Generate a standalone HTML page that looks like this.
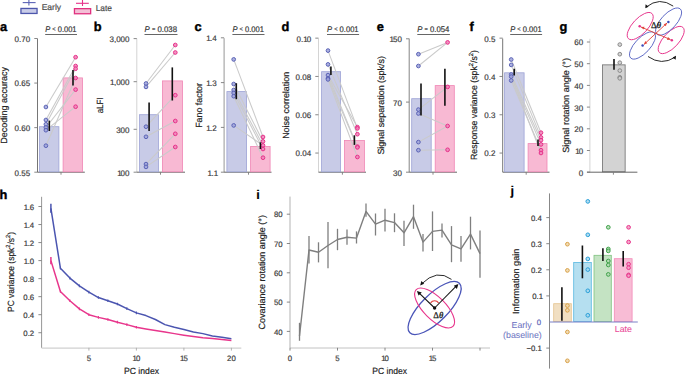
<!DOCTYPE html><html><head><meta charset="utf-8"><style>html,body{margin:0;padding:0;background:#fff;width:685px;height:374px;overflow:hidden}text{font-family:"Liberation Sans",sans-serif;text-rendering:geometricPrecision}</style></head><body><svg width="685" height="374" viewBox="0 0 685 374" style="display:block;font-family:'Liberation Sans', sans-serif;text-rendering:geometricPrecision">
<rect width="685" height="374" fill="#fff"/>
<rect x="20.95" y="8.45" width="16.10" height="5.00" fill="#c9cce8" stroke="#4d56ac" stroke-width="1.3"/>
<line x1="22.7" y1="2.6" x2="35.6" y2="2.6" stroke="#5b63b6" stroke-width="1.1" />
<line x1="28.9" y1="0" x2="28.9" y2="5.4" stroke="#5b63b6" stroke-width="1.1" />
<text x="41.7" y="9.9" font-size="8.5" text-anchor="start" fill="#4a4a4a" stroke="#4a4a4a" stroke-width="0.18" font-weight="normal" textLength="19.4" lengthAdjust="spacingAndGlyphs" style="">Early</text>
<rect x="74.45" y="8.65" width="16.20" height="5.10" fill="#f3bfd6" stroke="#e0307f" stroke-width="1.3"/>
<line x1="76" y1="3.3" x2="88.8" y2="3.3" stroke="#e6318a" stroke-width="1.1" />
<line x1="82.5" y1="0" x2="82.5" y2="6.0" stroke="#e6318a" stroke-width="1.1" />
<text x="95.7" y="10.6" font-size="8.5" text-anchor="start" fill="#4a4a4a" stroke="#4a4a4a" stroke-width="0.18" font-weight="normal" textLength="16.3" lengthAdjust="spacingAndGlyphs" style="">Late</text>
<line x1="37.5" y1="38.6" x2="37.5" y2="172.2" stroke="#666" stroke-width="0.9" />
<line x1="37.5" y1="172.2" x2="84.8" y2="172.2" stroke="#555" stroke-width="0.9" />
<rect x="39.40" y="126.70" width="19.50" height="45.10" fill="#c8cbe7" stroke="#9da3d6" stroke-width="0.8"/>
<rect x="63.10" y="77.90" width="19.40" height="93.90" fill="#f8b9d3" stroke="#ef86b5" stroke-width="0.8"/>
<line x1="45.9" y1="107" x2="75.6" y2="57.2" stroke="#cacaca" stroke-width="1.05" />
<line x1="45.9" y1="120" x2="75.6" y2="66" stroke="#cacaca" stroke-width="1.05" />
<line x1="45.9" y1="124.3" x2="75.6" y2="68.7" stroke="#cacaca" stroke-width="1.05" />
<line x1="45.9" y1="127.5" x2="75.6" y2="89.6" stroke="#cacaca" stroke-width="1.05" />
<line x1="45.9" y1="130.2" x2="75.6" y2="106.7" stroke="#cacaca" stroke-width="1.05" />
<line x1="45.9" y1="145.7" x2="75.6" y2="78" stroke="#cacaca" stroke-width="1.05" />
<circle cx="45.9" cy="107" r="1.85" fill="#a0a6dc" fill-opacity="0.85" stroke="#5b63b6" stroke-width="1"/>
<circle cx="45.9" cy="120" r="1.85" fill="#a0a6dc" fill-opacity="0.85" stroke="#5b63b6" stroke-width="1"/>
<circle cx="45.9" cy="124.3" r="1.85" fill="#a0a6dc" fill-opacity="0.85" stroke="#5b63b6" stroke-width="1"/>
<circle cx="45.9" cy="127.5" r="1.85" fill="#a0a6dc" fill-opacity="0.85" stroke="#5b63b6" stroke-width="1"/>
<circle cx="45.9" cy="130.2" r="1.85" fill="#a0a6dc" fill-opacity="0.85" stroke="#5b63b6" stroke-width="1"/>
<circle cx="45.9" cy="145.7" r="1.85" fill="#a0a6dc" fill-opacity="0.85" stroke="#5b63b6" stroke-width="1"/>
<circle cx="75.6" cy="57.2" r="1.85" fill="#f183b8" fill-opacity="0.85" stroke="#e6318a" stroke-width="1"/>
<circle cx="75.6" cy="66" r="1.85" fill="#f183b8" fill-opacity="0.85" stroke="#e6318a" stroke-width="1"/>
<circle cx="75.6" cy="68.7" r="1.85" fill="#f183b8" fill-opacity="0.85" stroke="#e6318a" stroke-width="1"/>
<circle cx="75.6" cy="78" r="1.85" fill="#f183b8" fill-opacity="0.85" stroke="#e6318a" stroke-width="1"/>
<circle cx="75.6" cy="89.6" r="1.85" fill="#f183b8" fill-opacity="0.85" stroke="#e6318a" stroke-width="1"/>
<circle cx="75.6" cy="106.7" r="1.85" fill="#f183b8" fill-opacity="0.85" stroke="#e6318a" stroke-width="1"/>
<line x1="49.3" y1="120.6" x2="49.3" y2="131" stroke="#111111" stroke-width="1.6" />
<line x1="73" y1="69.9" x2="73" y2="85.6" stroke="#111111" stroke-width="1.6" />
<line x1="61" y1="172.2" x2="61" y2="174.7" stroke="#7a7a7a" stroke-width="0.9" />
<line x1="34.3" y1="172.2" x2="37.5" y2="172.2" stroke="#7a7a7a" stroke-width="0.9" />
<text x="30.2" y="175.6" font-size="8" text-anchor="end" fill="#3a3a3a" stroke="#3a3a3a" stroke-width="0.18" font-weight="normal" style="">0.55</text>
<line x1="34.3" y1="127.63333333333338" x2="37.5" y2="127.63333333333338" stroke="#7a7a7a" stroke-width="0.9" />
<text x="30.2" y="131.0333333333334" font-size="8" text-anchor="end" fill="#3a3a3a" stroke="#3a3a3a" stroke-width="0.18" font-weight="normal" style="">0.60</text>
<line x1="34.3" y1="83.06666666666668" x2="37.5" y2="83.06666666666668" stroke="#7a7a7a" stroke-width="0.9" />
<text x="30.2" y="86.46666666666668" font-size="8" text-anchor="end" fill="#3a3a3a" stroke="#3a3a3a" stroke-width="0.18" font-weight="normal" style="">0.65</text>
<line x1="34.3" y1="38.500000000000085" x2="37.5" y2="38.500000000000085" stroke="#7a7a7a" stroke-width="0.9" />
<text x="30.2" y="41.900000000000084" font-size="8" text-anchor="end" fill="#3a3a3a" stroke="#3a3a3a" stroke-width="0.18" font-weight="normal" style="">0.70</text>
<text x="45.2" y="31.5" font-size="8.2" fill="#333" stroke="#333" stroke-width="0.18" textLength="31.30" lengthAdjust="spacingAndGlyphs"><tspan font-style="italic">P</tspan> <tspan font-size="6.2" dy="-0.6">&lt;</tspan><tspan dy="0.6"> 0.001</tspan></text>
<line x1="45.2" y1="34.5" x2="77.0" y2="34.5" stroke="#555" stroke-width="0.9" />
<text x="7.5" y="105.35" font-size="9.0" text-anchor="middle" fill="#222" stroke="#222" stroke-width="0.18" font-weight="normal" transform="rotate(-90 7.5 105.35)" textLength="76.7" lengthAdjust="spacingAndGlyphs" style="">Decoding accuracy</text>
<text x="0" y="31" font-size="12.8" font-weight="bold" fill="#000" stroke="#000" stroke-width="0.4">a</text>
<line x1="136.8" y1="38.6" x2="136.8" y2="172.2" stroke="#cfcfcf" stroke-width="0.9" />
<line x1="136.8" y1="172.2" x2="185" y2="172.2" stroke="#555" stroke-width="0.9" />
<rect x="139.50" y="114.70" width="18.90" height="57.10" fill="#c8cbe7" stroke="#9da3d6" stroke-width="0.8"/>
<rect x="162.40" y="80.90" width="20.10" height="90.90" fill="#f8b9d3" stroke="#ef86b5" stroke-width="0.8"/>
<line x1="146" y1="83.5" x2="175.3" y2="45" stroke="#cacaca" stroke-width="1.05" />
<line x1="146" y1="86.9" x2="175.3" y2="52.5" stroke="#cacaca" stroke-width="1.05" />
<line x1="146" y1="126.7" x2="175.3" y2="95.2" stroke="#cacaca" stroke-width="1.05" />
<line x1="146" y1="136.8" x2="175.3" y2="121" stroke="#cacaca" stroke-width="1.05" />
<line x1="146" y1="164.1" x2="175.3" y2="133.8" stroke="#cacaca" stroke-width="1.05" />
<line x1="146" y1="166.9" x2="175.3" y2="147" stroke="#cacaca" stroke-width="1.05" />
<circle cx="146" cy="83.5" r="1.85" fill="#a0a6dc" fill-opacity="0.85" stroke="#5b63b6" stroke-width="1"/>
<circle cx="146" cy="86.9" r="1.85" fill="#a0a6dc" fill-opacity="0.85" stroke="#5b63b6" stroke-width="1"/>
<circle cx="146" cy="126.7" r="1.85" fill="#a0a6dc" fill-opacity="0.85" stroke="#5b63b6" stroke-width="1"/>
<circle cx="146" cy="136.8" r="1.85" fill="#a0a6dc" fill-opacity="0.85" stroke="#5b63b6" stroke-width="1"/>
<circle cx="146" cy="164.1" r="1.85" fill="#a0a6dc" fill-opacity="0.85" stroke="#5b63b6" stroke-width="1"/>
<circle cx="146" cy="166.9" r="1.85" fill="#a0a6dc" fill-opacity="0.85" stroke="#5b63b6" stroke-width="1"/>
<circle cx="175.3" cy="45" r="1.85" fill="#f183b8" fill-opacity="0.85" stroke="#e6318a" stroke-width="1"/>
<circle cx="175.3" cy="52.5" r="1.85" fill="#f183b8" fill-opacity="0.85" stroke="#e6318a" stroke-width="1"/>
<circle cx="175.3" cy="95.2" r="1.85" fill="#f183b8" fill-opacity="0.85" stroke="#e6318a" stroke-width="1"/>
<circle cx="175.3" cy="121" r="1.85" fill="#f183b8" fill-opacity="0.85" stroke="#e6318a" stroke-width="1"/>
<circle cx="175.3" cy="133.8" r="1.85" fill="#f183b8" fill-opacity="0.85" stroke="#e6318a" stroke-width="1"/>
<circle cx="175.3" cy="147" r="1.85" fill="#f183b8" fill-opacity="0.85" stroke="#e6318a" stroke-width="1"/>
<line x1="149.1" y1="102.6" x2="149.1" y2="131" stroke="#111111" stroke-width="1.6" />
<line x1="172.3" y1="67.4" x2="172.3" y2="100.5" stroke="#111111" stroke-width="1.6" />
<line x1="160.5" y1="172.2" x2="160.5" y2="174.7" stroke="#7a7a7a" stroke-width="0.9" />
<line x1="133.60000000000002" y1="172.2" x2="136.8" y2="172.2" stroke="#7a7a7a" stroke-width="0.9" />
<text x="129.5" y="175.6" font-size="8" text-anchor="end" fill="#3a3a3a" stroke="#3a3a3a" stroke-width="0.18" font-weight="normal" style="">1<tspan dx="-1.0">0</tspan>0</text>
<line x1="133.60000000000002" y1="129.3" x2="136.8" y2="129.3" stroke="#7a7a7a" stroke-width="0.9" />
<text x="129.5" y="132.70000000000002" font-size="8" text-anchor="end" fill="#3a3a3a" stroke="#3a3a3a" stroke-width="0.18" font-weight="normal" style="">300</text>
<line x1="133.60000000000002" y1="81.7" x2="136.8" y2="81.7" stroke="#7a7a7a" stroke-width="0.9" />
<text x="129.5" y="85.10000000000001" font-size="8" text-anchor="end" fill="#3a3a3a" stroke="#3a3a3a" stroke-width="0.18" font-weight="normal" style="">1<tspan dx="-0.5">,</tspan>000</text>
<line x1="133.60000000000002" y1="38.6" x2="136.8" y2="38.6" stroke="#7a7a7a" stroke-width="0.9" />
<text x="129.5" y="42.0" font-size="8" text-anchor="end" fill="#3a3a3a" stroke="#3a3a3a" stroke-width="0.18" font-weight="normal" style="">3,000</text>
<text x="144.5" y="31.5" font-size="8.2" fill="#333" stroke="#333" stroke-width="0.18" textLength="32.50" lengthAdjust="spacingAndGlyphs"><tspan font-style="italic">P</tspan> <tspan font-size="6" dy="-0.7">=</tspan><tspan dy="0.7"> 0.038</tspan></text>
<line x1="144.5" y1="34.5" x2="177.5" y2="34.5" stroke="#555" stroke-width="0.9" />
<text x="103" y="105.3" font-size="9.0" text-anchor="middle" fill="#222" stroke="#222" stroke-width="0.18" font-weight="normal" transform="rotate(-90 103 105.3)" textLength="16.1" lengthAdjust="spacingAndGlyphs" style="">aLFI</text>
<text x="93.8" y="31" font-size="12.8" font-weight="bold" fill="#000" stroke="#000" stroke-width="0.4">b</text>
<line x1="224.1" y1="38.2" x2="224.1" y2="172.2" stroke="#8a8a8a" stroke-width="0.9" />
<line x1="224.1" y1="172.2" x2="271.5" y2="172.2" stroke="#555" stroke-width="0.9" />
<rect x="226.90" y="91.60" width="19.70" height="80.20" fill="#c8cbe7" stroke="#9da3d6" stroke-width="0.8"/>
<rect x="250.60" y="146.40" width="19.50" height="25.40" fill="#f8b9d3" stroke="#ef86b5" stroke-width="0.8"/>
<line x1="233.7" y1="59.4" x2="263" y2="137" stroke="#cacaca" stroke-width="1.05" />
<line x1="233.7" y1="84" x2="263" y2="141.4" stroke="#cacaca" stroke-width="1.05" />
<line x1="233.7" y1="90" x2="263" y2="145.4" stroke="#cacaca" stroke-width="1.05" />
<line x1="233.7" y1="93" x2="263" y2="149" stroke="#cacaca" stroke-width="1.05" />
<line x1="233.7" y1="96.2" x2="263" y2="157.7" stroke="#cacaca" stroke-width="1.05" />
<line x1="233.7" y1="125.4" x2="263" y2="145.4" stroke="#cacaca" stroke-width="1.05" />
<circle cx="233.7" cy="59.4" r="1.85" fill="#a0a6dc" fill-opacity="0.85" stroke="#5b63b6" stroke-width="1"/>
<circle cx="233.7" cy="84" r="1.85" fill="#a0a6dc" fill-opacity="0.85" stroke="#5b63b6" stroke-width="1"/>
<circle cx="233.7" cy="90" r="1.85" fill="#a0a6dc" fill-opacity="0.85" stroke="#5b63b6" stroke-width="1"/>
<circle cx="233.7" cy="93" r="1.85" fill="#a0a6dc" fill-opacity="0.85" stroke="#5b63b6" stroke-width="1"/>
<circle cx="233.7" cy="96.2" r="1.85" fill="#a0a6dc" fill-opacity="0.85" stroke="#5b63b6" stroke-width="1"/>
<circle cx="233.7" cy="125.4" r="1.85" fill="#a0a6dc" fill-opacity="0.85" stroke="#5b63b6" stroke-width="1"/>
<circle cx="263" cy="137" r="1.85" fill="#f183b8" fill-opacity="0.85" stroke="#e6318a" stroke-width="1"/>
<circle cx="263" cy="141.4" r="1.85" fill="#f183b8" fill-opacity="0.85" stroke="#e6318a" stroke-width="1"/>
<circle cx="263" cy="145.4" r="1.85" fill="#f183b8" fill-opacity="0.85" stroke="#e6318a" stroke-width="1"/>
<circle cx="263" cy="149" r="1.85" fill="#f183b8" fill-opacity="0.85" stroke="#e6318a" stroke-width="1"/>
<circle cx="263" cy="157.7" r="1.85" fill="#f183b8" fill-opacity="0.85" stroke="#e6318a" stroke-width="1"/>
<line x1="236.3" y1="83.2" x2="236.3" y2="99.2" stroke="#111111" stroke-width="1.6" />
<line x1="260.4" y1="142.3" x2="260.4" y2="149" stroke="#111111" stroke-width="1.6" />
<line x1="248.5" y1="172.2" x2="248.5" y2="174.7" stroke="#7a7a7a" stroke-width="0.9" />
<line x1="220.9" y1="172.2" x2="224.1" y2="172.2" stroke="#7a7a7a" stroke-width="0.9" />
<text x="218.1" y="175.6" font-size="8" text-anchor="end" fill="#3a3a3a" stroke="#3a3a3a" stroke-width="0.18" font-weight="normal" style="">1<tspan dx="-0.5">.</tspan>1</text>
<line x1="220.9" y1="127.40000000000005" x2="224.1" y2="127.40000000000005" stroke="#7a7a7a" stroke-width="0.9" />
<text x="216.79999999999998" y="130.80000000000004" font-size="8" text-anchor="end" fill="#3a3a3a" stroke="#3a3a3a" stroke-width="0.18" font-weight="normal" style="">1<tspan dx="-0.5">.</tspan>2</text>
<line x1="220.9" y1="82.60000000000001" x2="224.1" y2="82.60000000000001" stroke="#7a7a7a" stroke-width="0.9" />
<text x="216.79999999999998" y="86.00000000000001" font-size="8" text-anchor="end" fill="#3a3a3a" stroke="#3a3a3a" stroke-width="0.18" font-weight="normal" style="">1<tspan dx="-0.5">.</tspan>3</text>
<line x1="220.9" y1="37.80000000000007" x2="224.1" y2="37.80000000000007" stroke="#7a7a7a" stroke-width="0.9" />
<text x="216.79999999999998" y="41.20000000000007" font-size="8" text-anchor="end" fill="#3a3a3a" stroke="#3a3a3a" stroke-width="0.18" font-weight="normal" style="">1<tspan dx="-0.5">.</tspan>4</text>
<text x="232.4" y="31.5" font-size="8.2" fill="#333" stroke="#333" stroke-width="0.18" textLength="31.60" lengthAdjust="spacingAndGlyphs"><tspan font-style="italic">P</tspan> <tspan font-size="6.2" dy="-0.6">&lt;</tspan><tspan dy="0.6"> 0.001</tspan></text>
<line x1="232.4" y1="34.5" x2="264.5" y2="34.5" stroke="#555" stroke-width="0.9" />
<text x="202.1" y="105.4" font-size="9.0" text-anchor="middle" fill="#222" stroke="#222" stroke-width="0.18" font-weight="normal" transform="rotate(-90 202.1 105.4)" textLength="44.8" lengthAdjust="spacingAndGlyphs" style="">Fano factor</text>
<text x="194.6" y="31" font-size="12.8" font-weight="bold" fill="#000" stroke="#000" stroke-width="0.4">c</text>
<line x1="318.5" y1="38.6" x2="318.5" y2="172.2" stroke="#cfcfcf" stroke-width="0.9" />
<line x1="318.5" y1="172.2" x2="366" y2="172.2" stroke="#555" stroke-width="0.9" />
<rect x="321.60" y="71.70" width="19.00" height="100.10" fill="#c8cbe7" stroke="#9da3d6" stroke-width="0.8"/>
<rect x="344.50" y="140.40" width="19.90" height="31.40" fill="#f8b9d3" stroke="#ef86b5" stroke-width="0.8"/>
<line x1="328" y1="50.6" x2="357.4" y2="128.4" stroke="#cacaca" stroke-width="1.05" />
<line x1="328" y1="64.4" x2="357.4" y2="134.2" stroke="#cacaca" stroke-width="1.05" />
<line x1="328" y1="75.1" x2="357.4" y2="146.6" stroke="#cacaca" stroke-width="1.05" />
<line x1="328" y1="78.3" x2="357.4" y2="147.4" stroke="#cacaca" stroke-width="1.05" />
<line x1="328" y1="79.4" x2="357.4" y2="157" stroke="#cacaca" stroke-width="1.05" />
<line x1="328" y1="75.1" x2="357.4" y2="127.1" stroke="#cacaca" stroke-width="1.05" />
<circle cx="328" cy="50.6" r="1.85" fill="#a0a6dc" fill-opacity="0.85" stroke="#5b63b6" stroke-width="1"/>
<circle cx="328" cy="64.4" r="1.85" fill="#a0a6dc" fill-opacity="0.85" stroke="#5b63b6" stroke-width="1"/>
<circle cx="328" cy="75.1" r="1.85" fill="#a0a6dc" fill-opacity="0.85" stroke="#5b63b6" stroke-width="1"/>
<circle cx="328" cy="78.3" r="1.85" fill="#a0a6dc" fill-opacity="0.85" stroke="#5b63b6" stroke-width="1"/>
<circle cx="328" cy="79.4" r="1.85" fill="#a0a6dc" fill-opacity="0.85" stroke="#5b63b6" stroke-width="1"/>
<circle cx="357.4" cy="127.1" r="1.85" fill="#f183b8" fill-opacity="0.85" stroke="#e6318a" stroke-width="1"/>
<circle cx="357.4" cy="128.4" r="1.85" fill="#f183b8" fill-opacity="0.85" stroke="#e6318a" stroke-width="1"/>
<circle cx="357.4" cy="134.2" r="1.85" fill="#f183b8" fill-opacity="0.85" stroke="#e6318a" stroke-width="1"/>
<circle cx="357.4" cy="146.6" r="1.85" fill="#f183b8" fill-opacity="0.85" stroke="#e6318a" stroke-width="1"/>
<circle cx="357.4" cy="147.4" r="1.85" fill="#f183b8" fill-opacity="0.85" stroke="#e6318a" stroke-width="1"/>
<circle cx="357.4" cy="157" r="1.85" fill="#f183b8" fill-opacity="0.85" stroke="#e6318a" stroke-width="1"/>
<line x1="330.9" y1="66.6" x2="330.9" y2="75.1" stroke="#111111" stroke-width="1.6" />
<line x1="354.4" y1="135.3" x2="354.4" y2="144.9" stroke="#111111" stroke-width="1.6" />
<line x1="342.4" y1="172.2" x2="342.4" y2="174.7" stroke="#7a7a7a" stroke-width="0.9" />
<line x1="315.3" y1="153.04999999999998" x2="318.5" y2="153.04999999999998" stroke="#7a7a7a" stroke-width="0.9" />
<text x="311.2" y="156.45" font-size="8" text-anchor="end" fill="#3a3a3a" stroke="#3a3a3a" stroke-width="0.18" font-weight="normal" style="">0.04</text>
<line x1="315.3" y1="114.75" x2="318.5" y2="114.75" stroke="#7a7a7a" stroke-width="0.9" />
<text x="311.2" y="118.15" font-size="8" text-anchor="end" fill="#3a3a3a" stroke="#3a3a3a" stroke-width="0.18" font-weight="normal" style="">0.06</text>
<line x1="315.3" y1="76.44999999999999" x2="318.5" y2="76.44999999999999" stroke="#7a7a7a" stroke-width="0.9" />
<text x="311.2" y="79.85" font-size="8" text-anchor="end" fill="#3a3a3a" stroke="#3a3a3a" stroke-width="0.18" font-weight="normal" style="">0.08</text>
<line x1="315.3" y1="38.14999999999998" x2="318.5" y2="38.14999999999998" stroke="#7a7a7a" stroke-width="0.9" />
<text x="311.2" y="41.549999999999976" font-size="8" text-anchor="end" fill="#3a3a3a" stroke="#3a3a3a" stroke-width="0.18" font-weight="normal" style="">0.1<tspan dx="-1.0">0</tspan></text>
<text x="327" y="31.5" font-size="8.2" fill="#333" stroke="#333" stroke-width="0.18" textLength="31.60" lengthAdjust="spacingAndGlyphs"><tspan font-style="italic">P</tspan> <tspan font-size="6.2" dy="-0.6">&lt;</tspan><tspan dy="0.6"> 0.001</tspan></text>
<line x1="327" y1="34.5" x2="359.1" y2="34.5" stroke="#555" stroke-width="0.9" />
<text x="289.5" y="105.3" font-size="9.0" text-anchor="middle" fill="#222" stroke="#222" stroke-width="0.18" font-weight="normal" transform="rotate(-90 289.5 105.3)" textLength="67.1" lengthAdjust="spacingAndGlyphs" style="">Noise correlation</text>
<text x="281.4" y="31" font-size="12.8" font-weight="bold" fill="#000" stroke="#000" stroke-width="0.4">d</text>
<line x1="409.2" y1="38.6" x2="409.2" y2="172.2" stroke="#777" stroke-width="0.9" />
<line x1="409.2" y1="172.2" x2="457" y2="172.2" stroke="#555" stroke-width="0.9" />
<rect x="411.70" y="98.70" width="19.50" height="73.10" fill="#c8cbe7" stroke="#9da3d6" stroke-width="0.8"/>
<rect x="435.20" y="85.60" width="19.10" height="86.20" fill="#f8b9d3" stroke="#ef86b5" stroke-width="0.8"/>
<line x1="418.4" y1="54.2" x2="447.6" y2="42.4" stroke="#cacaca" stroke-width="1.05" />
<line x1="418.4" y1="66" x2="447.6" y2="42.4" stroke="#cacaca" stroke-width="1.05" />
<line x1="418.4" y1="109.6" x2="447.6" y2="86.9" stroke="#cacaca" stroke-width="1.05" />
<line x1="418.4" y1="113.5" x2="447.6" y2="126" stroke="#cacaca" stroke-width="1.05" />
<line x1="418.4" y1="142.1" x2="447.6" y2="126" stroke="#cacaca" stroke-width="1.05" />
<line x1="418.4" y1="150.2" x2="447.6" y2="149.8" stroke="#cacaca" stroke-width="1.05" />
<circle cx="418.4" cy="54.2" r="1.85" fill="#a0a6dc" fill-opacity="0.85" stroke="#5b63b6" stroke-width="1"/>
<circle cx="418.4" cy="66" r="1.85" fill="#a0a6dc" fill-opacity="0.85" stroke="#5b63b6" stroke-width="1"/>
<circle cx="418.4" cy="109.6" r="1.85" fill="#a0a6dc" fill-opacity="0.85" stroke="#5b63b6" stroke-width="1"/>
<circle cx="418.4" cy="113.5" r="1.85" fill="#a0a6dc" fill-opacity="0.85" stroke="#5b63b6" stroke-width="1"/>
<circle cx="418.4" cy="142.1" r="1.85" fill="#a0a6dc" fill-opacity="0.85" stroke="#5b63b6" stroke-width="1"/>
<circle cx="418.4" cy="150.2" r="1.85" fill="#a0a6dc" fill-opacity="0.85" stroke="#5b63b6" stroke-width="1"/>
<circle cx="447.6" cy="42.4" r="1.85" fill="#f183b8" fill-opacity="0.85" stroke="#e6318a" stroke-width="1"/>
<circle cx="447.6" cy="86.9" r="1.85" fill="#f183b8" fill-opacity="0.85" stroke="#e6318a" stroke-width="1"/>
<circle cx="447.6" cy="126" r="1.85" fill="#f183b8" fill-opacity="0.85" stroke="#e6318a" stroke-width="1"/>
<circle cx="447.6" cy="149.8" r="1.85" fill="#f183b8" fill-opacity="0.85" stroke="#e6318a" stroke-width="1"/>
<line x1="421" y1="83.5" x2="421" y2="115.4" stroke="#111111" stroke-width="1.6" />
<line x1="444.9" y1="68.7" x2="444.9" y2="105.8" stroke="#111111" stroke-width="1.6" />
<line x1="433" y1="172.2" x2="433" y2="174.7" stroke="#7a7a7a" stroke-width="0.9" />
<line x1="406.0" y1="172.2" x2="409.2" y2="172.2" stroke="#7a7a7a" stroke-width="0.9" />
<text x="401.9" y="175.6" font-size="8" text-anchor="end" fill="#3a3a3a" stroke="#3a3a3a" stroke-width="0.18" font-weight="normal" style="">30</text>
<line x1="406.0" y1="102.1" x2="409.2" y2="102.1" stroke="#7a7a7a" stroke-width="0.9" />
<text x="401.9" y="105.5" font-size="8" text-anchor="end" fill="#3a3a3a" stroke="#3a3a3a" stroke-width="0.18" font-weight="normal" style="">70</text>
<line x1="406.0" y1="38.8" x2="409.2" y2="38.8" stroke="#7a7a7a" stroke-width="0.9" />
<text x="401.9" y="42.199999999999996" font-size="8" text-anchor="end" fill="#3a3a3a" stroke="#3a3a3a" stroke-width="0.18" font-weight="normal" style="">1<tspan dx="-1.0">5</tspan>0</text>
<text x="417.3" y="31.5" font-size="8.2" fill="#333" stroke="#333" stroke-width="0.18" textLength="32.10" lengthAdjust="spacingAndGlyphs"><tspan font-style="italic">P</tspan> <tspan font-size="6" dy="-0.7">=</tspan><tspan dy="0.7"> 0.054</tspan></text>
<line x1="417.3" y1="34.5" x2="449.9" y2="34.5" stroke="#555" stroke-width="0.9" />
<text x="384.2" y="105.3" font-size="9.0" text-anchor="middle" fill="#222" stroke="#222" stroke-width="0.18" font-weight="normal" transform="rotate(-90 384.2 105.3)" textLength="98.6" lengthAdjust="spacingAndGlyphs" style="">Signal separation (spk/s)</text>
<text x="376.7" y="31" font-size="12.8" font-weight="bold" fill="#000" stroke="#000" stroke-width="0.4">e</text>
<line x1="502.7" y1="38.6" x2="502.7" y2="172.2" stroke="#666" stroke-width="0.9" />
<line x1="502.7" y1="172.2" x2="549.5" y2="172.2" stroke="#555" stroke-width="0.9" />
<rect x="504.60" y="72.80" width="19.50" height="99.00" fill="#c8cbe7" stroke="#9da3d6" stroke-width="0.8"/>
<rect x="528.10" y="143.60" width="18.90" height="28.20" fill="#f8b9d3" stroke="#ef86b5" stroke-width="0.8"/>
<line x1="511.2" y1="59.5" x2="541" y2="132.7" stroke="#cacaca" stroke-width="1.05" />
<line x1="511.2" y1="64.9" x2="541" y2="137.4" stroke="#cacaca" stroke-width="1.05" />
<line x1="511.2" y1="74.5" x2="541" y2="140.2" stroke="#cacaca" stroke-width="1.05" />
<line x1="511.2" y1="76.6" x2="541" y2="144.4" stroke="#cacaca" stroke-width="1.05" />
<line x1="511.2" y1="80.5" x2="541" y2="150.2" stroke="#cacaca" stroke-width="1.05" />
<line x1="511.2" y1="76.6" x2="541" y2="153" stroke="#cacaca" stroke-width="1.05" />
<circle cx="511.2" cy="59.5" r="1.85" fill="#a0a6dc" fill-opacity="0.85" stroke="#5b63b6" stroke-width="1"/>
<circle cx="511.2" cy="64.9" r="1.85" fill="#a0a6dc" fill-opacity="0.85" stroke="#5b63b6" stroke-width="1"/>
<circle cx="511.2" cy="74.5" r="1.85" fill="#a0a6dc" fill-opacity="0.85" stroke="#5b63b6" stroke-width="1"/>
<circle cx="511.2" cy="76.6" r="1.85" fill="#a0a6dc" fill-opacity="0.85" stroke="#5b63b6" stroke-width="1"/>
<circle cx="511.2" cy="80.5" r="1.85" fill="#a0a6dc" fill-opacity="0.85" stroke="#5b63b6" stroke-width="1"/>
<circle cx="541" cy="132.7" r="1.85" fill="#f183b8" fill-opacity="0.85" stroke="#e6318a" stroke-width="1"/>
<circle cx="541" cy="137.4" r="1.85" fill="#f183b8" fill-opacity="0.85" stroke="#e6318a" stroke-width="1"/>
<circle cx="541" cy="140.2" r="1.85" fill="#f183b8" fill-opacity="0.85" stroke="#e6318a" stroke-width="1"/>
<circle cx="541" cy="144.4" r="1.85" fill="#f183b8" fill-opacity="0.85" stroke="#e6318a" stroke-width="1"/>
<circle cx="541" cy="150.2" r="1.85" fill="#f183b8" fill-opacity="0.85" stroke="#e6318a" stroke-width="1"/>
<circle cx="541" cy="153" r="1.85" fill="#f183b8" fill-opacity="0.85" stroke="#e6318a" stroke-width="1"/>
<line x1="514.2" y1="68.7" x2="514.2" y2="75.5" stroke="#111111" stroke-width="1.6" />
<line x1="538" y1="139.5" x2="538" y2="146" stroke="#111111" stroke-width="1.6" />
<line x1="526.2" y1="172.2" x2="526.2" y2="174.7" stroke="#7a7a7a" stroke-width="0.9" />
<line x1="499.5" y1="153.04999999999998" x2="502.7" y2="153.04999999999998" stroke="#7a7a7a" stroke-width="0.9" />
<text x="495.4" y="156.45" font-size="8" text-anchor="end" fill="#3a3a3a" stroke="#3a3a3a" stroke-width="0.18" font-weight="normal" style="">0.2</text>
<line x1="499.5" y1="114.75" x2="502.7" y2="114.75" stroke="#7a7a7a" stroke-width="0.9" />
<text x="495.4" y="118.15" font-size="8" text-anchor="end" fill="#3a3a3a" stroke="#3a3a3a" stroke-width="0.18" font-weight="normal" style="">0.3</text>
<line x1="499.5" y1="76.44999999999999" x2="502.7" y2="76.44999999999999" stroke="#7a7a7a" stroke-width="0.9" />
<text x="495.4" y="79.85" font-size="8" text-anchor="end" fill="#3a3a3a" stroke="#3a3a3a" stroke-width="0.18" font-weight="normal" style="">0.4</text>
<line x1="499.5" y1="38.150000000000006" x2="502.7" y2="38.150000000000006" stroke="#7a7a7a" stroke-width="0.9" />
<text x="495.4" y="41.550000000000004" font-size="8" text-anchor="end" fill="#3a3a3a" stroke="#3a3a3a" stroke-width="0.18" font-weight="normal" style="">0.5</text>
<text x="510.2" y="31.5" font-size="8.2" fill="#333" stroke="#333" stroke-width="0.18" textLength="31.40" lengthAdjust="spacingAndGlyphs"><tspan font-style="italic">P</tspan> <tspan font-size="6.2" dy="-0.6">&lt;</tspan><tspan dy="0.6"> 0.001</tspan></text>
<line x1="510.2" y1="34.5" x2="542.1" y2="34.5" stroke="#555" stroke-width="0.9" />
<text x="477" y="105" font-size="9.0" text-anchor="middle" fill="#222" stroke="#222" stroke-width="0.18" font-weight="normal" transform="rotate(-90 477 105)" textLength="110" lengthAdjust="spacingAndGlyphs" style="">Response variance (spk<tspan baseline-shift="4.2" font-size="6">2</tspan>/s<tspan baseline-shift="4.2" font-size="6">2</tspan>)</text>
<text x="469.4" y="31" font-size="12.8" font-weight="bold" fill="#000" stroke="#000" stroke-width="0.4">f</text>
<rect x="602.55" y="64.85" width="22.60" height="106.90" fill="#d3d3d3" stroke="#7a7a7a" stroke-width="0.9"/>
<circle cx="619.8" cy="44.6" r="1.85" fill="#d0d0d0" fill-opacity="0.85" stroke="#8a8a8a" stroke-width="1"/>
<circle cx="619.8" cy="54.2" r="1.85" fill="#d0d0d0" fill-opacity="0.85" stroke="#8a8a8a" stroke-width="1"/>
<circle cx="619.8" cy="62.7" r="1.85" fill="#d0d0d0" fill-opacity="0.85" stroke="#8a8a8a" stroke-width="1"/>
<circle cx="619.8" cy="70.6" r="1.85" fill="#d0d0d0" fill-opacity="0.85" stroke="#8a8a8a" stroke-width="1"/>
<circle cx="619.8" cy="77.3" r="1.85" fill="#d0d0d0" fill-opacity="0.85" stroke="#8a8a8a" stroke-width="1"/>
<circle cx="619.8" cy="78.3" r="1.85" fill="#d0d0d0" fill-opacity="0.85" stroke="#8a8a8a" stroke-width="1"/>
<line x1="614" y1="59.1" x2="614" y2="69.8" stroke="#111111" stroke-width="1.6" />
<line x1="589.9" y1="38.8" x2="589.9" y2="172.2" stroke="#cfcfcf" stroke-width="0.9" />
<line x1="587" y1="172.2" x2="637.4" y2="172.2" stroke="#555" stroke-width="0.9" />
<line x1="613.4" y1="172.2" x2="613.4" y2="174.7" stroke="#7a7a7a" stroke-width="0.9" />
<line x1="586.9" y1="172.2" x2="589.9" y2="172.2" stroke="#7a7a7a" stroke-width="0.9" />
<text x="583.2" y="175.6" font-size="8" text-anchor="end" fill="#3a3a3a" stroke="#3a3a3a" stroke-width="0.18" font-weight="normal" style="">0</text>
<line x1="586.9" y1="150.5" x2="589.9" y2="150.5" stroke="#7a7a7a" stroke-width="0.9" />
<text x="583.2" y="153.9" font-size="8" text-anchor="end" fill="#3a3a3a" stroke="#3a3a3a" stroke-width="0.18" font-weight="normal" style="">1<tspan dx="-1.0">0</tspan></text>
<line x1="586.9" y1="128.79999999999998" x2="589.9" y2="128.79999999999998" stroke="#7a7a7a" stroke-width="0.9" />
<text x="583.2" y="132.2" font-size="8" text-anchor="end" fill="#3a3a3a" stroke="#3a3a3a" stroke-width="0.18" font-weight="normal" style="">20</text>
<line x1="586.9" y1="107.1" x2="589.9" y2="107.1" stroke="#7a7a7a" stroke-width="0.9" />
<text x="583.2" y="110.5" font-size="8" text-anchor="end" fill="#3a3a3a" stroke="#3a3a3a" stroke-width="0.18" font-weight="normal" style="">30</text>
<line x1="586.9" y1="85.39999999999999" x2="589.9" y2="85.39999999999999" stroke="#7a7a7a" stroke-width="0.9" />
<text x="583.2" y="88.8" font-size="8" text-anchor="end" fill="#3a3a3a" stroke="#3a3a3a" stroke-width="0.18" font-weight="normal" style="">40</text>
<line x1="586.9" y1="63.69999999999999" x2="589.9" y2="63.69999999999999" stroke="#7a7a7a" stroke-width="0.9" />
<text x="583.2" y="67.1" font-size="8" text-anchor="end" fill="#3a3a3a" stroke="#3a3a3a" stroke-width="0.18" font-weight="normal" style="">50</text>
<line x1="586.9" y1="42.0" x2="589.9" y2="42.0" stroke="#7a7a7a" stroke-width="0.9" />
<text x="583.2" y="45.4" font-size="8" text-anchor="end" fill="#3a3a3a" stroke="#3a3a3a" stroke-width="0.18" font-weight="normal" style="">60</text>
<text x="569.3" y="105.4" font-size="9.0" text-anchor="middle" fill="#222" stroke="#222" stroke-width="0.18" font-weight="normal" transform="rotate(-90 569.3 105.4)" textLength="94.8" lengthAdjust="spacingAndGlyphs" style="">Signal rotation angle (°)</text>
<text x="559.4" y="31" font-size="12.8" font-weight="bold" fill="#000" stroke="#000" stroke-width="0.4">g</text>
<g fill="none" stroke-width="0.9">
<ellipse cx="640.2" cy="26.1" rx="17.2" ry="7.6" transform="rotate(-47 640.2 26.1)" stroke="#e6318a"/>
<ellipse cx="671.2" cy="40.0" rx="17.2" ry="7.6" transform="rotate(-47 671.2 40.0)" stroke="#e6318a"/>
<ellipse cx="668.6" cy="21.6" rx="17.2" ry="7.6" transform="rotate(-47 668.6 21.6)" stroke="#5a66c4"/>
<ellipse cx="642.5" cy="45.5" rx="17.2" ry="7.6" transform="rotate(-47 642.5 45.5)" stroke="#5a66c4"/>
</g>
<g stroke="#e0443a" stroke-width="0.9" fill="none">
<line x1="641" y1="27" x2="670.5" y2="39.6"/><line x1="644" y1="44.4" x2="667" y2="23"/>
</g>
<g fill="#e0443a">
<path d="M0,0 L-3.2,-1.5 L-3.2,1.5 Z" transform="translate(641 27) rotate(200)"/>
<path d="M0,0 L-3.2,-1.5 L-3.2,1.5 Z" transform="translate(670.5 39.6) rotate(20)"/>
<path d="M0,0 L-3.2,-1.5 L-3.2,1.5 Z" transform="translate(644 44.4) rotate(135)"/>
<path d="M0,0 L-3.2,-1.5 L-3.2,1.5 Z" transform="translate(667 23) rotate(-45)"/>
</g>
<circle cx="639.7" cy="26.3" r="1.25" fill="#e6318a"/>
<circle cx="671.8" cy="40.3" r="1.25" fill="#e6318a"/>
<circle cx="668.4" cy="21.9" r="1.25" fill="#3a49b8"/>
<circle cx="642.6" cy="45.4" r="1.25" fill="#3a49b8"/>
<text x="651" y="27.8" font-size="8.8" fill="#111" stroke="#111" stroke-width="0.25" style="font-family:'Liberation Serif', serif">Δ<tspan font-style="italic">θ</tspan></text>
<path d="M646.3,7 Q659.5,-3.5 673.2,6.1" fill="none" stroke="#111" stroke-width="0.9"/>
<path d="M645.3,8.2 L645.6,4.2 L648.6,6.7 Z" fill="#111"/>
<path d="M648,56.5 Q661.5,66 675,57.3" fill="none" stroke="#111" stroke-width="0.9"/>
<path d="M676,55.8 L675.6,59.8 L672.6,57.4 Z" fill="#111"/>
<line x1="41.6" y1="196.8" x2="41.6" y2="347.8" stroke="#8a8a8a" stroke-width="0.9" />
<line x1="41.6" y1="348.1" x2="241.3" y2="348.1" stroke="#bdbdbd" stroke-width="0.9" />
<line x1="38.4" y1="332.72" x2="41.6" y2="332.72" stroke="#7a7a7a" stroke-width="0.9" />
<text x="34.2" y="335.82000000000005" font-size="7.8" text-anchor="end" fill="#3a3a3a" stroke="#3a3a3a" stroke-width="0.18" font-weight="normal" style="">0.2</text>
<line x1="38.4" y1="314.69000000000005" x2="41.6" y2="314.69000000000005" stroke="#7a7a7a" stroke-width="0.9" />
<text x="34.2" y="317.7900000000001" font-size="7.8" text-anchor="end" fill="#3a3a3a" stroke="#3a3a3a" stroke-width="0.18" font-weight="normal" style="">0.4</text>
<line x1="38.4" y1="296.66" x2="41.6" y2="296.66" stroke="#7a7a7a" stroke-width="0.9" />
<text x="34.2" y="299.76000000000005" font-size="7.8" text-anchor="end" fill="#3a3a3a" stroke="#3a3a3a" stroke-width="0.18" font-weight="normal" style="">0.6</text>
<line x1="38.4" y1="278.63" x2="41.6" y2="278.63" stroke="#7a7a7a" stroke-width="0.9" />
<text x="34.2" y="281.73" font-size="7.8" text-anchor="end" fill="#3a3a3a" stroke="#3a3a3a" stroke-width="0.18" font-weight="normal" style="">0.8</text>
<line x1="38.4" y1="260.6" x2="41.6" y2="260.6" stroke="#7a7a7a" stroke-width="0.9" />
<text x="34.2" y="263.70000000000005" font-size="7.8" text-anchor="end" fill="#3a3a3a" stroke="#3a3a3a" stroke-width="0.18" font-weight="normal" style="">1<tspan dx="-0.5">.</tspan>0</text>
<line x1="38.4" y1="242.57000000000002" x2="41.6" y2="242.57000000000002" stroke="#7a7a7a" stroke-width="0.9" />
<text x="34.2" y="245.67000000000002" font-size="7.8" text-anchor="end" fill="#3a3a3a" stroke="#3a3a3a" stroke-width="0.18" font-weight="normal" style="">1<tspan dx="-0.5">.</tspan>2</text>
<line x1="38.4" y1="224.54000000000002" x2="41.6" y2="224.54000000000002" stroke="#7a7a7a" stroke-width="0.9" />
<text x="34.2" y="227.64000000000001" font-size="7.8" text-anchor="end" fill="#3a3a3a" stroke="#3a3a3a" stroke-width="0.18" font-weight="normal" style="">1<tspan dx="-0.5">.</tspan>4</text>
<line x1="38.4" y1="206.51000000000002" x2="41.6" y2="206.51000000000002" stroke="#7a7a7a" stroke-width="0.9" />
<text x="34.2" y="209.61" font-size="7.8" text-anchor="end" fill="#3a3a3a" stroke="#3a3a3a" stroke-width="0.18" font-weight="normal" style="">1<tspan dx="-0.5">.</tspan>6</text>
<line x1="88.9" y1="347.8" x2="88.9" y2="350.6" stroke="#aaa" stroke-width="0.9" />
<text x="88.9" y="360.6" font-size="7.8" text-anchor="middle" fill="#3a3a3a" stroke="#3a3a3a" stroke-width="0.18" font-weight="normal" style="">5</text>
<line x1="136.4" y1="347.8" x2="136.4" y2="350.6" stroke="#aaa" stroke-width="0.9" />
<text x="136.4" y="360.6" font-size="7.8" text-anchor="middle" fill="#3a3a3a" stroke="#3a3a3a" stroke-width="0.18" font-weight="normal" style="">1<tspan dx="-1.0">0</tspan></text>
<line x1="183.9" y1="347.8" x2="183.9" y2="350.6" stroke="#aaa" stroke-width="0.9" />
<text x="183.9" y="360.6" font-size="7.8" text-anchor="middle" fill="#3a3a3a" stroke="#3a3a3a" stroke-width="0.18" font-weight="normal" style="">1<tspan dx="-1.0">5</tspan></text>
<line x1="231.4" y1="347.8" x2="231.4" y2="350.6" stroke="#aaa" stroke-width="0.9" />
<text x="231.4" y="360.6" font-size="7.8" text-anchor="middle" fill="#3a3a3a" stroke="#3a3a3a" stroke-width="0.18" font-weight="normal" style="">20</text>
<text x="141.5" y="373.8" font-size="9.0" text-anchor="middle" fill="#222" stroke="#222" stroke-width="0.18" font-weight="normal" textLength="35" lengthAdjust="spacingAndGlyphs" style="">PC index</text>
<text x="14.2" y="272" font-size="9.0" text-anchor="middle" fill="#222" stroke="#222" stroke-width="0.18" textLength="80" lengthAdjust="spacingAndGlyphs" transform="rotate(-90 14.2 272)">PC variance (spk<tspan baseline-shift="4.2" font-size="6">2</tspan>/s<tspan baseline-shift="4.2" font-size="6">2</tspan>)</text>
<text x="-0.6" y="198.8" font-size="12.8" font-weight="bold" fill="#000" stroke="#000" stroke-width="0.4">h</text>
<polyline points="50.90,208.31 60.40,268.17 69.90,278.09 79.40,285.84 88.90,292.15 98.40,297.56 107.90,300.72 117.40,304.05 126.90,308.65 136.40,312.89 145.90,315.59 155.40,319.47 164.90,324.61 174.40,327.31 183.90,329.47 193.40,332.09 202.90,333.62 212.40,336.06 221.90,337.23 231.40,338.67" fill="none" stroke="#4b55b0" stroke-width="1.5" stroke-linejoin="round"/>
<line x1="60.4" y1="266.87260000000003" x2="60.4" y2="269.47260000000006" stroke="#4b55b0" stroke-width="1.1" />
<line x1="69.9" y1="276.7891" x2="69.9" y2="279.38910000000004" stroke="#4b55b0" stroke-width="1.1" />
<line x1="79.4" y1="284.54200000000003" x2="79.4" y2="287.14200000000005" stroke="#4b55b0" stroke-width="1.1" />
<line x1="88.9" y1="290.8525" x2="88.9" y2="293.45250000000004" stroke="#4b55b0" stroke-width="1.1" />
<line x1="98.4" y1="296.2615" x2="98.4" y2="298.86150000000004" stroke="#4b55b0" stroke-width="1.1" />
<line x1="107.9" y1="299.41675000000004" x2="107.9" y2="302.01675000000006" stroke="#4b55b0" stroke-width="1.1" />
<line x1="117.4" y1="302.7523" x2="117.4" y2="305.3523" stroke="#4b55b0" stroke-width="1.1" />
<line x1="126.9" y1="307.34995" x2="126.9" y2="309.94995" stroke="#4b55b0" stroke-width="1.1" />
<line x1="136.4" y1="311.58700000000005" x2="136.4" y2="314.18700000000007" stroke="#4b55b0" stroke-width="1.1" />
<polyline points="50.90,260.60 60.40,291.43 69.90,300.72 79.40,308.92 88.90,314.69 98.40,317.39 107.90,319.47 117.40,322.17 126.90,324.61 136.40,327.31 145.90,328.93 155.40,330.47 164.90,332.09 174.40,333.62 183.90,335.15 193.40,336.51 202.90,337.68 212.40,338.58 221.90,339.39 231.40,340.38" fill="none" stroke="#e8368c" stroke-width="1.5" stroke-linejoin="round"/>
<line x1="60.4" y1="290.1313" x2="60.4" y2="292.73130000000003" stroke="#e8368c" stroke-width="1.1" />
<line x1="69.9" y1="299.41675000000004" x2="69.9" y2="302.01675000000006" stroke="#e8368c" stroke-width="1.1" />
<line x1="79.4" y1="307.6204" x2="79.4" y2="310.22040000000004" stroke="#e8368c" stroke-width="1.1" />
<line x1="88.9" y1="313.39000000000004" x2="88.9" y2="315.99000000000007" stroke="#e8368c" stroke-width="1.1" />
<line x1="98.4" y1="316.09450000000004" x2="98.4" y2="318.69450000000006" stroke="#e8368c" stroke-width="1.1" />
<line x1="107.9" y1="318.16795" x2="107.9" y2="320.76795000000004" stroke="#e8368c" stroke-width="1.1" />
<line x1="117.4" y1="320.87245" x2="117.4" y2="323.47245000000004" stroke="#e8368c" stroke-width="1.1" />
<line x1="126.9" y1="323.3065" x2="126.9" y2="325.90650000000005" stroke="#e8368c" stroke-width="1.1" />
<line x1="136.4" y1="326.011" x2="136.4" y2="328.61100000000005" stroke="#e8368c" stroke-width="1.1" />
<line x1="50.9" y1="203.80550000000002" x2="50.9" y2="212.8205" stroke="#4b55b0" stroke-width="1.5" />
<line x1="50.9" y1="256.994" x2="50.9" y2="264.206" stroke="#e8368c" stroke-width="1.5" />
<line x1="290" y1="196.6" x2="290" y2="347.8" stroke="#aaa" stroke-width="0.9" />
<line x1="290" y1="348" x2="490" y2="348" stroke="#bbb" stroke-width="0.9" />
<line x1="286.8" y1="331.4" x2="290" y2="331.4" stroke="#7a7a7a" stroke-width="0.9" />
<text x="282.6" y="334.5" font-size="7.8" text-anchor="end" fill="#3a3a3a" stroke="#3a3a3a" stroke-width="0.18" font-weight="normal" style="">40</text>
<line x1="286.8" y1="302.1" x2="290" y2="302.1" stroke="#7a7a7a" stroke-width="0.9" />
<text x="282.6" y="305.20000000000005" font-size="7.8" text-anchor="end" fill="#3a3a3a" stroke="#3a3a3a" stroke-width="0.18" font-weight="normal" style="">50</text>
<line x1="286.8" y1="272.8" x2="290" y2="272.8" stroke="#7a7a7a" stroke-width="0.9" />
<text x="282.6" y="275.90000000000003" font-size="7.8" text-anchor="end" fill="#3a3a3a" stroke="#3a3a3a" stroke-width="0.18" font-weight="normal" style="">60</text>
<line x1="286.8" y1="243.5" x2="290" y2="243.5" stroke="#7a7a7a" stroke-width="0.9" />
<text x="282.6" y="246.6" font-size="7.8" text-anchor="end" fill="#3a3a3a" stroke="#3a3a3a" stroke-width="0.18" font-weight="normal" style="">70</text>
<line x1="286.8" y1="214.2" x2="290" y2="214.2" stroke="#7a7a7a" stroke-width="0.9" />
<text x="282.6" y="217.29999999999998" font-size="7.8" text-anchor="end" fill="#3a3a3a" stroke="#3a3a3a" stroke-width="0.18" font-weight="normal" style="">80</text>
<line x1="290.0" y1="347.8" x2="290.0" y2="350.6" stroke="#7a7a7a" stroke-width="0.9" />
<text x="290.0" y="360.6" font-size="7.8" text-anchor="middle" fill="#3a3a3a" stroke="#3a3a3a" stroke-width="0.18" font-weight="normal" style="">0</text>
<line x1="337.5" y1="347.8" x2="337.5" y2="350.6" stroke="#7a7a7a" stroke-width="0.9" />
<text x="337.5" y="360.6" font-size="7.8" text-anchor="middle" fill="#3a3a3a" stroke="#3a3a3a" stroke-width="0.18" font-weight="normal" style="">5</text>
<line x1="385.0" y1="347.8" x2="385.0" y2="350.6" stroke="#7a7a7a" stroke-width="0.9" />
<text x="385.0" y="360.6" font-size="7.8" text-anchor="middle" fill="#3a3a3a" stroke="#3a3a3a" stroke-width="0.18" font-weight="normal" style="">1<tspan dx="-1.0">0</tspan></text>
<line x1="432.5" y1="347.8" x2="432.5" y2="350.6" stroke="#7a7a7a" stroke-width="0.9" />
<text x="432.5" y="360.6" font-size="7.8" text-anchor="middle" fill="#3a3a3a" stroke="#3a3a3a" stroke-width="0.18" font-weight="normal" style="">1<tspan dx="-1.0">5</tspan></text>
<line x1="480.0" y1="347.8" x2="480.0" y2="350.6" stroke="#7a7a7a" stroke-width="0.9" />
<text x="389.7" y="373.8" font-size="9.0" text-anchor="middle" fill="#222" stroke="#222" stroke-width="0.18" font-weight="normal" textLength="34.7" lengthAdjust="spacingAndGlyphs" style="">PC index</text>
<text x="265.5" y="272.3" font-size="9.0" text-anchor="middle" fill="#222" stroke="#222" stroke-width="0.18" font-weight="normal" transform="rotate(-90 265.5 272.3)" textLength="114.4" lengthAdjust="spacingAndGlyphs" style="">Covariance rotation angle (°)</text>
<text x="256.3" y="198.6" font-size="12.8" font-weight="bold" fill="#000" stroke="#000" stroke-width="0.15">i</text>
<polyline points="299.50,336 309.00,250 318.50,252.2 328.00,245.5 337.50,239.5 347.00,237.3 356.50,238.1 366.00,211.4 375.50,224.2 385.00,220.2 394.50,222.6 404.00,232.8 413.50,216.7 423.00,242.1 432.50,231.4 442.00,230.1 451.50,244.8 461.00,248.8 470.50,234.1 480.00,253.6" fill="none" stroke="#7f7f7f" stroke-width="1.4" stroke-linejoin="round"/>
<line x1="299.5" y1="322.8" x2="299.5" y2="340.8" stroke="#7f7f7f" stroke-width="1.3" />
<line x1="309.0" y1="236.1" x2="309.0" y2="263.4" stroke="#7f7f7f" stroke-width="1.3" />
<line x1="318.5" y1="242.3" x2="318.5" y2="262.4" stroke="#7f7f7f" stroke-width="1.3" />
<line x1="328.0" y1="222" x2="328.0" y2="268.2" stroke="#7f7f7f" stroke-width="1.3" />
<line x1="337.5" y1="228.8" x2="337.5" y2="250.2" stroke="#7f7f7f" stroke-width="1.3" />
<line x1="347.0" y1="229.6" x2="347.0" y2="244.8" stroke="#7f7f7f" stroke-width="1.3" />
<line x1="356.5" y1="231.4" x2="356.5" y2="243.5" stroke="#7f7f7f" stroke-width="1.3" />
<line x1="366.0" y1="203.4" x2="366.0" y2="216.7" stroke="#7f7f7f" stroke-width="1.3" />
<line x1="375.5" y1="213.5" x2="375.5" y2="235.5" stroke="#7f7f7f" stroke-width="1.3" />
<line x1="385.0" y1="208.7" x2="385.0" y2="231.4" stroke="#7f7f7f" stroke-width="1.3" />
<line x1="394.5" y1="213.3" x2="394.5" y2="232.2" stroke="#7f7f7f" stroke-width="1.3" />
<line x1="404.0" y1="220.7" x2="404.0" y2="246.1" stroke="#7f7f7f" stroke-width="1.3" />
<line x1="413.5" y1="204.7" x2="413.5" y2="228.8" stroke="#7f7f7f" stroke-width="1.3" />
<line x1="423.0" y1="234.1" x2="423.0" y2="251.5" stroke="#7f7f7f" stroke-width="1.3" />
<line x1="432.5" y1="211.4" x2="432.5" y2="251" stroke="#7f7f7f" stroke-width="1.3" />
<line x1="442.0" y1="223.4" x2="442.0" y2="237.6" stroke="#7f7f7f" stroke-width="1.3" />
<line x1="451.5" y1="226.1" x2="451.5" y2="262.2" stroke="#7f7f7f" stroke-width="1.3" />
<line x1="461.0" y1="236" x2="461.0" y2="261.7" stroke="#7f7f7f" stroke-width="1.3" />
<line x1="470.5" y1="216.7" x2="470.5" y2="249.4" stroke="#7f7f7f" stroke-width="1.3" />
<line x1="480.0" y1="230.6" x2="480.0" y2="277.7" stroke="#7f7f7f" stroke-width="1.3" />
<ellipse cx="434.6" cy="308" rx="35" ry="13.5" transform="rotate(-45 434.6 308)" fill="none" stroke="#4a55b8" stroke-width="1.3"/>
<ellipse cx="434.6" cy="308" rx="26" ry="11" transform="rotate(45 434.6 308)" fill="none" stroke="#e8368c" stroke-width="1.1"/>
<path d="M430.6,302.8 A5,5 0 0 1 438.6,302.8" fill="none" stroke="#e23a3a" stroke-width="1.1"/>
<g stroke="#111" stroke-width="1.05"><line x1="434.6" y1="308" x2="418.2" y2="292.2"/><line x1="434.6" y1="308" x2="457.2" y2="285.2"/></g>
<path d="M416.9,291 L421.8,292.6 L418.6,295.6 Z" fill="#111"/>
<path d="M458.4,284 L456.9,289 L453.8,285.8 Z" fill="#111"/>
<circle cx="434.6" cy="308" r="1.7" fill="#111"/>
<path d="M451.5,279.4 Q437,268.5 421.5,284" fill="none" stroke="#111" stroke-width="0.9"/>
<path d="M420.2,285.4 L421.3,280.9 L424.2,283.7 Z" fill="#111"/>
<text x="433.3" y="317.8" font-size="8.8" fill="#111" stroke="#111" stroke-width="0.25" style="font-family:'Liberation Serif', serif">Δ<tspan font-style="italic">θ</tspan></text>
<line x1="549.5" y1="193.4" x2="549.5" y2="368.6" stroke="#7a7a7a" stroke-width="0.9" />
<line x1="546.3" y1="217.6" x2="549.5" y2="217.6" stroke="#7a7a7a" stroke-width="0.9" />
<text x="541.8" y="220.7" font-size="7.8" text-anchor="end" fill="#3a3a3a" stroke="#3a3a3a" stroke-width="0.18" font-weight="normal" style="">0.4</text>
<line x1="546.3" y1="243.7" x2="549.5" y2="243.7" stroke="#7a7a7a" stroke-width="0.9" />
<text x="541.8" y="246.79999999999998" font-size="7.8" text-anchor="end" fill="#3a3a3a" stroke="#3a3a3a" stroke-width="0.18" font-weight="normal" style="">0.3</text>
<line x1="546.3" y1="269.8" x2="549.5" y2="269.8" stroke="#7a7a7a" stroke-width="0.9" />
<text x="541.8" y="272.90000000000003" font-size="7.8" text-anchor="end" fill="#3a3a3a" stroke="#3a3a3a" stroke-width="0.18" font-weight="normal" style="">0.2</text>
<line x1="546.3" y1="295.9" x2="549.5" y2="295.9" stroke="#7a7a7a" stroke-width="0.9" />
<text x="543.0999999999999" y="299.0" font-size="7.8" text-anchor="end" fill="#3a3a3a" stroke="#3a3a3a" stroke-width="0.18" font-weight="normal" style="">0.1</text>
<line x1="546.3" y1="348.1" x2="549.5" y2="348.1" stroke="#7a7a7a" stroke-width="0.9" />
<text x="541.8" y="351.20000000000005" font-size="7.8" text-anchor="end" fill="#3a3a3a" stroke="#3a3a3a" stroke-width="0.18" font-weight="normal" style="">−0.1</text>
<text x="538.9" y="325.3" font-size="7.8" text-anchor="middle" fill="#5d65b8" stroke="#5d65b8" stroke-width="0.18" font-weight="normal" style="">0</text>
<text x="521.6" y="327.8" font-size="8.8" text-anchor="middle" fill="#6d74c2" stroke="#6d74c2" stroke-width="0.05" font-weight="normal" style="">Early</text>
<text x="522.4" y="337.6" font-size="8.8" text-anchor="middle" fill="#6d74c2" stroke="#6d74c2" stroke-width="0.05" font-weight="normal" style="">(baseline)</text>
<text x="623.4" y="332" font-size="8.8" text-anchor="middle" fill="#ea4b9a" stroke="#ea4b9a" stroke-width="0.08" font-weight="normal" style="">Late</text>
<text x="519" y="281.3" font-size="9.0" text-anchor="middle" fill="#222" stroke="#222" stroke-width="0.18" font-weight="normal" transform="rotate(-90 519 281.3)" textLength="65.2" lengthAdjust="spacingAndGlyphs" style="">Information gain</text>
<text x="510.6" y="195" font-size="12.8" font-weight="bold" fill="#000" stroke="#000" stroke-width="0.15">j</text>
<rect x="553.70" y="303.70" width="17.60" height="17.90" fill="#f1dfc2" stroke="#e4c48e" stroke-width="0.8"/>
<rect x="573.70" y="262.50" width="17.60" height="59.10" fill="#b5dff0" stroke="#58b8e0" stroke-width="0.8"/>
<rect x="594.00" y="255.30" width="17.30" height="66.30" fill="#c4e3c3" stroke="#7fc27f" stroke-width="0.8"/>
<rect x="614.30" y="258.70" width="17.80" height="62.90" fill="#f8bcd5" stroke="#f28ab8" stroke-width="0.8"/>
<circle cx="567.4" cy="244.2" r="1.85" fill="#efd6a8" fill-opacity="0.85" stroke="#d9a24a" stroke-width="1"/>
<circle cx="567.4" cy="270.4" r="1.85" fill="#efd6a8" fill-opacity="0.85" stroke="#d9a24a" stroke-width="1"/>
<circle cx="567.4" cy="305.6" r="1.85" fill="#efd6a8" fill-opacity="0.85" stroke="#d9a24a" stroke-width="1"/>
<circle cx="567.4" cy="310.3" r="1.85" fill="#efd6a8" fill-opacity="0.85" stroke="#d9a24a" stroke-width="1"/>
<circle cx="567.4" cy="332" r="1.85" fill="#efd6a8" fill-opacity="0.85" stroke="#d9a24a" stroke-width="1"/>
<circle cx="567.4" cy="360.8" r="1.85" fill="#efd6a8" fill-opacity="0.85" stroke="#d9a24a" stroke-width="1"/>
<line x1="561.9" y1="287.2" x2="561.9" y2="320.8" stroke="#111111" stroke-width="1.6" />
<circle cx="587.8" cy="201.4" r="1.85" fill="#a3d6ef" fill-opacity="0.85" stroke="#2aa0d8" stroke-width="1"/>
<circle cx="587.8" cy="234.8" r="1.85" fill="#a3d6ef" fill-opacity="0.85" stroke="#2aa0d8" stroke-width="1"/>
<circle cx="587.8" cy="258.9" r="1.85" fill="#a3d6ef" fill-opacity="0.85" stroke="#2aa0d8" stroke-width="1"/>
<circle cx="587.8" cy="269.6" r="1.85" fill="#a3d6ef" fill-opacity="0.85" stroke="#2aa0d8" stroke-width="1"/>
<circle cx="587.8" cy="290.8" r="1.85" fill="#a3d6ef" fill-opacity="0.85" stroke="#2aa0d8" stroke-width="1"/>
<circle cx="587.8" cy="315.3" r="1.85" fill="#a3d6ef" fill-opacity="0.85" stroke="#2aa0d8" stroke-width="1"/>
<line x1="582.4" y1="245.5" x2="582.4" y2="278.3" stroke="#111111" stroke-width="1.6" />
<circle cx="608.3" cy="227.3" r="1.85" fill="#b0d9b0" fill-opacity="0.85" stroke="#3fa24a" stroke-width="1"/>
<circle cx="608.3" cy="249" r="1.85" fill="#b0d9b0" fill-opacity="0.85" stroke="#3fa24a" stroke-width="1"/>
<circle cx="608.3" cy="250.9" r="1.85" fill="#b0d9b0" fill-opacity="0.85" stroke="#3fa24a" stroke-width="1"/>
<circle cx="608.3" cy="261" r="1.85" fill="#b0d9b0" fill-opacity="0.85" stroke="#3fa24a" stroke-width="1"/>
<circle cx="608.3" cy="265" r="1.85" fill="#b0d9b0" fill-opacity="0.85" stroke="#3fa24a" stroke-width="1"/>
<circle cx="608.3" cy="274.4" r="1.85" fill="#b0d9b0" fill-opacity="0.85" stroke="#3fa24a" stroke-width="1"/>
<line x1="602.9" y1="248.2" x2="602.9" y2="261" stroke="#111111" stroke-width="1.6" />
<circle cx="628.6" cy="227.3" r="1.85" fill="#f39ac3" fill-opacity="0.85" stroke="#e8368c" stroke-width="1"/>
<circle cx="628.6" cy="242" r="1.85" fill="#f39ac3" fill-opacity="0.85" stroke="#e8368c" stroke-width="1"/>
<circle cx="628.6" cy="264.2" r="1.85" fill="#f39ac3" fill-opacity="0.85" stroke="#e8368c" stroke-width="1"/>
<circle cx="628.6" cy="267.7" r="1.85" fill="#f39ac3" fill-opacity="0.85" stroke="#e8368c" stroke-width="1"/>
<circle cx="628.6" cy="274.9" r="1.85" fill="#f39ac3" fill-opacity="0.85" stroke="#e8368c" stroke-width="1"/>
<circle cx="628.6" cy="275.7" r="1.85" fill="#f39ac3" fill-opacity="0.85" stroke="#e8368c" stroke-width="1"/>
<line x1="623.2" y1="250.9" x2="623.2" y2="266.4" stroke="#111111" stroke-width="1.6" />
<line x1="549.5" y1="322" x2="637.8" y2="322" stroke="#7b80c8" stroke-width="1" />
</svg></body></html>
